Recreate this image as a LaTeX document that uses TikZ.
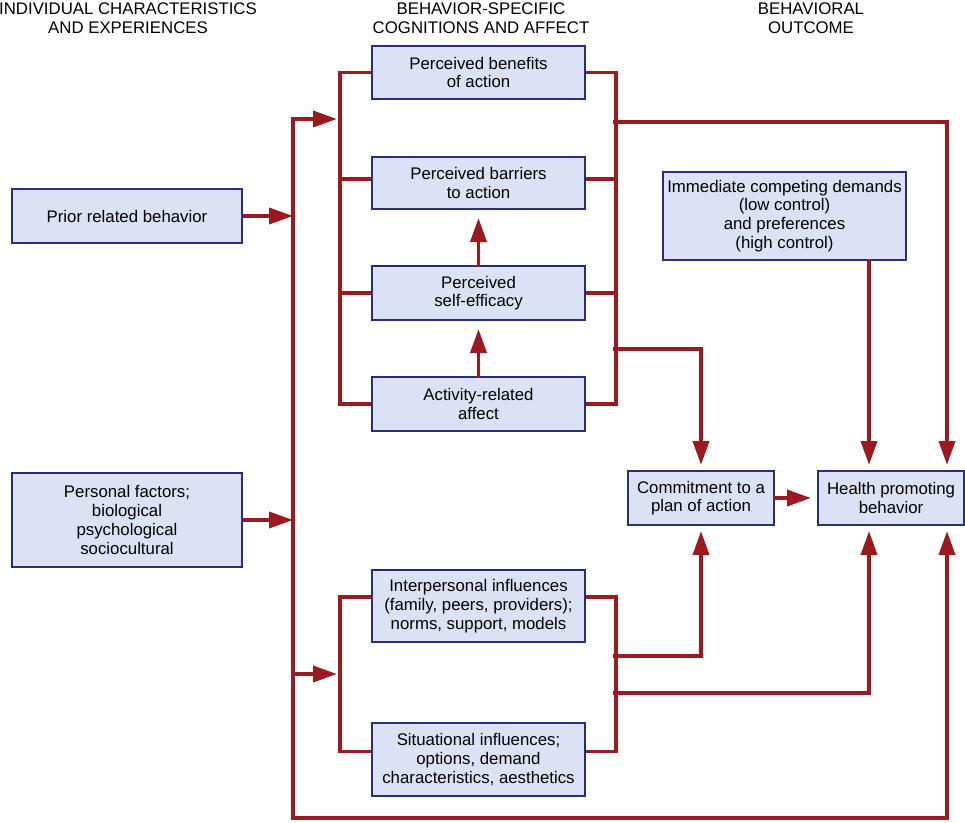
\documentclass[tikz,border=0pt]{standalone}
\usepackage{fontspec}
\setmainfont{Liberation Sans}
\usepackage{tikz}
\usetikzlibrary{arrows.meta,backgrounds}
\definecolor{linkred}{HTML}{9B1A20}
\definecolor{boxedge}{HTML}{2A2D7C}
\definecolor{boxfill}{HTML}{DCE2F5}

\begin{document}
\begin{tikzpicture}[x=1pt,y=-1pt,
  box/.style={draw=boxedge, line width=2pt, fill=boxfill, align=center, inner sep=0pt,
    font=\fontsize{16.8}{18.7}\selectfont},
  head/.style={align=center, inner sep=0pt, anchor=north, font=\fontsize{16.8}{18.5}\selectfont},
  link/.style={draw=linkred, line width=3.8pt, line cap=rect},
  flow/.style={link, -{Triangle[length=24pt,width=16pt]}}]
\useasboundingbox (0,0) rectangle (965,822);

\node[head] (hind) at (128,3) {INDIVIDUAL CHARACTERISTICS\\AND EXPERIENCES};
\node[head] (hcog) at (481,3) {BEHAVIOR-SPECIFIC\\COGNITIONS AND AFFECT};
\node[head] (hout) at (811,3) {BEHAVIORAL\\OUTCOME};

\node[box, minimum width=230pt, minimum height=54pt] (prior) at (127,216) {Prior related behavior};
\node[box, minimum width=230pt, minimum height=94pt] (personal) at (127,520)
  {Personal factors;\\biological\\psychological\\sociocultural};
\node[box, minimum width=213pt, minimum height=53pt] (benefits) at (478.5,72.5) {Perceived benefits\\of action};
\node[box, minimum width=213pt, minimum height=52pt] (barriers) at (478.5,183) {Perceived barriers\\to action};
\node[box, minimum width=213pt, minimum height=54pt] (efficacy) at (478.5,293) {Perceived\\self-efficacy};
\node[box, minimum width=213pt, minimum height=54pt] (affect) at (478.5,404) {Activity-related\\affect};
\node[box, minimum width=213pt, minimum height=72pt] (interp) at (478.5,606)
  {Interpersonal influences\\(family, peers, providers);\\norms, support, models};
\node[box, minimum width=213pt, minimum height=73pt] (situ) at (478.5,759.5)
  {Situational influences;\\options, demand\\characteristics, aesthetics};
\node[box, minimum width=243pt, minimum height=88pt] (demands) at (784.5,216)
  {Immediate competing demands\\(low control)\\and preferences\\(high control)};
\node[box, minimum width=146pt, minimum height=54pt] (commit) at (701,498) {Commitment to a\\plan of action};
\node[box, minimum width=146pt, minimum height=54pt] (health) at (891,498) {Health promoting\\behavior};

\coordinate (ltop) at (293,119);
\coordinate (lmid) at (293,674);
\coordinate (lbot) at (293,818);
\coordinate (tap1) at (615,122);
\coordinate (tap2) at (615,349);
\coordinate (tap3) at (615,656);
\coordinate (tap4) at (615,693);
\coordinate (hm) at (869,0);
\coordinate (hr) at (947,0);

\begin{scope}[on background layer]
\draw[link] (benefits.west) -- ++(-31,0) |- (affect.west)
  ([yshift=4pt]barriers.west) -- ++(-31,0) (efficacy.west) -- ++(-31,0);
\draw[link] (benefits.east) -- ++(30,0) |- (affect.east)
  ([yshift=4pt]barriers.east) -- ++(30,0) (efficacy.east) -- ++(30,0);
\draw[link] ([yshift=9pt]interp.west) -- ++(-31,0) |- ([yshift=8pt]situ.west);
\draw[link] ([yshift=9pt]interp.east) -- ++(30,0) |- ([yshift=8pt]situ.east);

\draw[flow] (lbot) -- (ltop) -- ++(44,0);
\draw[flow] (lmid) -- ++(44,0);
\draw[flow, shorten >=5pt] (lbot) -| (health.south -| hr);
\draw[flow] (prior) -- (prior -| ltop);
\draw[flow] (personal) -- (personal -| ltop);
\end{scope}

\draw[flow, shorten >=8pt] (efficacy.north) -- (barriers.south);
\draw[flow, shorten >=8pt] (affect.north) -- (efficacy.south);
\draw[flow, shorten >=5pt] (tap1) -| (health.north -| hr);
\draw[flow, shorten >=5pt] (demands.south -| hm) -- (health.north -| hm);
\draw[flow, shorten >=5pt] (tap2) -| (commit.north);
\draw[flow, shorten >=6pt] (commit) -- (health);
\draw[flow, shorten >=5pt] (tap3) -| (commit.south);
\draw[flow, shorten >=5pt] (tap4) -| (health.south -| hm);
\end{tikzpicture}
\end{document}
